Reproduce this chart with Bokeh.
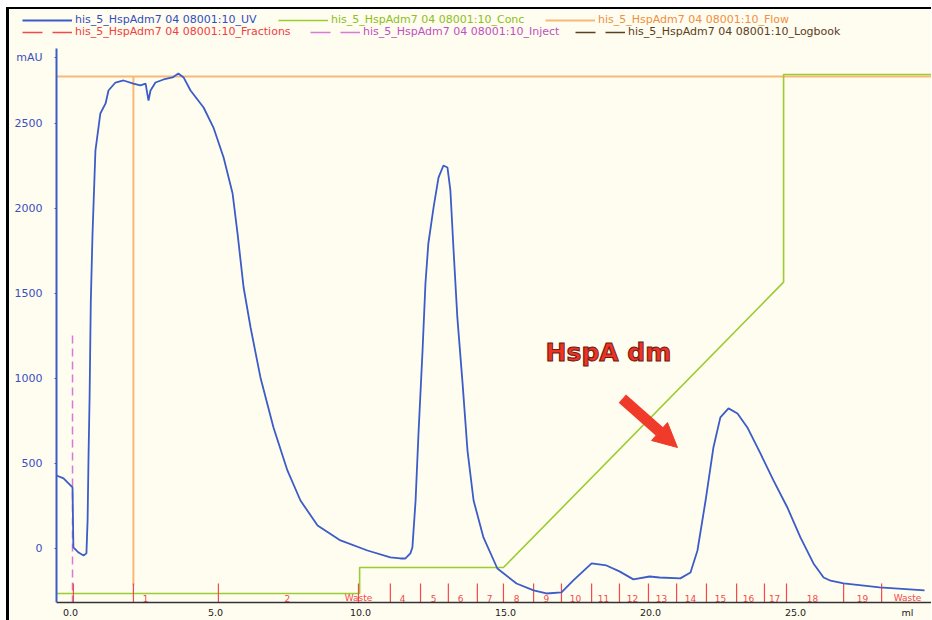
from bokeh.plotting import figure
from bokeh.models import (Range1d, FixedTicker, Legend, LegendItem, Arrow, NormalHead, Text)
from bokeh.core.properties import value
from bokeh.embed import file_html
from bokeh.resources import INLINE

# ---------------- data ----------------
uv_ml = [-0.48, -0.24, 0.07, 0.10, 0.28, 0.45, 0.55, 0.59, 0.62, 0.66, 0.70, 0.76, 0.86,
         1.03, 1.21, 1.31, 1.55, 1.83, 2.17, 2.41, 2.59, 2.69, 2.76, 2.93, 3.21, 3.52,
         3.72, 3.90, 4.14, 4.59, 4.93, 5.28, 5.59, 5.76, 5.97, 6.21, 6.55, 7.00, 7.48,
         7.93, 8.52, 9.31, 10.24, 11.03, 11.38, 11.55, 11.72, 11.79, 11.90, 12.00, 12.14,
         12.24, 12.34, 12.52, 12.69, 12.86, 13.00, 13.10, 13.21, 13.34, 13.52, 13.69,
         13.90, 14.24, 14.72, 15.38, 15.97, 16.41, 16.93, 17.34, 17.97, 18.48, 18.93,
         19.41, 19.97, 20.31, 21.03, 21.38, 21.62, 21.90, 22.17, 22.41, 22.69, 23.00,
         23.34, 23.79, 24.24, 24.72, 25.17, 25.62, 25.97, 26.21, 26.66, 27.90, 29.45]
uv_mau = [429, 412, 359, 6, -24, -41, -29, 165, 518, 900, 1450, 1853, 2341,
          2559, 2618, 2694, 2741, 2753, 2735, 2724, 2735, 2635, 2694, 2741, 2759, 2771,
          2794, 2771, 2694, 2594, 2476, 2300, 2088, 1853, 1535, 1300, 1006, 712, 459,
          282, 135, 47, -12, -53, -59, -59, -29, 6, 282, 676, 1165,
          1559, 1794, 2006, 2182, 2253, 2241, 2106, 1753, 1359, 971, 576,
          282, 65, -118, -206, -247, -265, -259, -188, -88, -100, -135,
          -182, -165, -171, -176, -141, -12, 282, 594, 771, 824, 794,
          712, 559, 400, 241, 65, -88, -171, -190, -206, -229, -247]

conc_ml = [-0.48, 9.97, 9.97, 14.93, 24.59, 24.59, 29.69]
conc_pct = [0, 0, 5, 5, 60, 100, 100]

flow_ml = [-0.48, 2.17, 2.17, 2.17, 29.69]
flow_val = [1.0, 1.0, 0.0, 1.0, 1.0]

inject_ml = [0.07]
inject_top = [1253]

frac_ticks = [0.10, 2.17, 5.10, 9.93, 11.03, 12.07, 13.03, 14.03, 14.93, 15.97, 16.93,
              17.97, 18.93, 19.93, 20.90, 21.93, 22.97, 23.93, 24.69, 26.66, 27.97]
frac_labels = ["1", "2", "Waste", "4", "5", "6", "7", "8", "9", "10", "11", "12", "13",
               "14", "15", "16", "17", "18", "19", "Waste"]
frac_label_ml = [2.59, 7.48, 9.93, 11.45, 12.52, 13.45, 14.45, 15.38, 16.41, 17.41,
                 18.38, 19.38, 20.38, 21.38, 22.41, 23.38, 24.28, 25.59, 27.31, 28.86]

x_ticks = [0, 5, 10, 15, 20, 25]
x_tick_labels = ["0.0", "5.0", "10.0", "15.0", "20.0", "25.0"]
x_unit_pos, x_unit = 28.86, "ml"
y_ticks = [0, 500, 1000, 1500, 2000, 2500]
y_tick_labels = ["0", "500", "1000", "1500", "2000", "2500"]
y_unit_pos, y_unit = 2888, "mAU"
x_start, x_end = -0.483, 29.69   # extent of the ml axis
y_axis_top = 2941

run = "his_5_HspAdm7 04 08001:10"
legend_names = [run + "_UV", run + "_Conc", run + "_Flow",
                run + "_Fractions", run + "_Inject", run + "_Logbook"]

note_text = "HspA dm"
note_pos = (18.55, 1153)
arrow_start = (19.03, 882)
arrow_end = (20.93, 594)

# ---------------- style ----------------
BG = "#fffcf0"
BLUE = "#3c5cc8"
GREEN = "#9acd32"
ORANGE = "#f8b878"
RED = "#f24a4a"
PINK = "#d67ad6"
BROWN = "#5a4020"

Y0, Y1 = -318, 3153
X0 = -2.103  # frame reaches past the y axis so the legend samples are not clipped
p = figure(frame_width=922, frame_height=590, output_backend="svg", toolbar_location=None,
           x_range=Range1d(X0, x_end), y_range=Range1d(Y0, Y1),
           min_border_left=0, min_border_right=0, min_border_top=3, min_border_bottom=0)
p.margin = (7, 0, 0, 6)
p.styles = {"border-top": "2px solid black", "border-left": "3px solid black"}
p.background_fill_color = BG
p.border_fill_color = BG
p.outline_line_color = None
p.grid.visible = False

# secondary scales: conc 0% sits at -265 mAU-equivalent, 100% at 2788
p.extra_y_ranges = {"conc": Range1d((Y0 + 265) / 30.53, (Y1 + 265) / 30.53),
                    "flow": Range1d((Y0 + 218) / 2994.0, (Y1 + 218) / 2994.0)}

# axes
xa = p.xaxis[0]
xa.ticker = FixedTicker(ticks=x_ticks + [x_unit_pos])
xa.major_label_overrides = {**{t: l for t, l in zip(x_ticks, x_tick_labels)}, x_unit_pos: x_unit}
xa.bounds = (x_start, x_end)
xa.axis_line_color = "#333333"
xa.axis_line_width = 1.5
xa.major_tick_line_color = None
xa.major_tick_out = 0
xa.major_tick_in = 0
xa.minor_tick_line_color = None
xa.major_label_standoff = 4
xa.major_label_text_font = "DejaVu Sans"
xa.major_label_text_font_size = "9.5px"
xa.major_label_text_color = "#222222"

ya = p.yaxis[0]
ya.fixed_location = x_start
ya.ticker = FixedTicker(ticks=y_ticks + [y_unit_pos])
ya.major_label_overrides = {**{t: l for t, l in zip(y_ticks, y_tick_labels)}, y_unit_pos: y_unit}
ya.bounds = (Y0, y_axis_top)
ya.axis_line_color = BLUE
ya.axis_line_width = 2
ya.major_tick_line_color = BLUE
ya.major_tick_out = 2
ya.major_tick_in = 0
ya.minor_tick_line_color = None
ya.major_label_standoff = 12
ya.major_label_text_font = "DejaVu Sans"
ya.major_label_text_font_size = "11px"
ya.major_label_text_color = "#3a4fc0"

# flow
r_flow = p.line(flow_ml, flow_val, y_range_name="flow", color=ORANGE, line_width=2)
# conc
r_conc = p.line(conc_ml, conc_pct, y_range_name="conc", color=GREEN, line_width=1.6)
# inject
p.segment(x0=inject_ml, y0=inject_top, x1=inject_ml, y1=[Y0] * len(inject_ml),
          color=PINK, line_width=1.5, line_dash="8 5")
# fractions
p.segment(x0=frac_ticks, y0=[-206] * len(frac_ticks), x1=frac_ticks, y1=[Y0] * len(frac_ticks),
          color=RED, line_width=1.2)
p.text(x=frac_label_ml, y=[-294] * len(frac_labels), text=frac_labels,
       text_font=value("DejaVu Sans"), text_font_size="9px", text_color=RED,
       text_align="center", text_baseline="middle")
# UV
r_uv = p.line(uv_ml, uv_mau, color=BLUE, line_width=1.8)

# legend-only renderers (no visible data)
nan2 = [float("nan")] * 2
r_frac = p.line(nan2, nan2, color=RED, line_width=1.5, line_dash="20 10")
r_inj = p.line(nan2, nan2, color=PINK, line_width=1.5, line_dash="20 10")
r_log = p.line(nan2, nan2, color=BROWN, line_width=1.5, line_dash="20 10")

legend_specs = [
    (r_uv, legend_names[0], "#2f4fc0", (13, 576)),
    (r_conc, legend_names[1], "#8cc020", (269, 576)),
    (r_flow, legend_names[2], "#f09040", (536, 576)),
    (r_frac, legend_names[3], "#f04040", (13, 564)),
    (r_inj, legend_names[4], "#c050c0", (301, 564)),
    (r_log, legend_names[5], BROWN, (566, 564)),
]
for rend, name, col, loc in legend_specs:
    lg = Legend(items=[LegendItem(label=name, renderers=[rend])], location=loc,
                glyph_width=50, glyph_height=10, label_standoff=3, padding=0, margin=0,
                label_height=10, border_line_color=None, background_fill_alpha=0,
                label_text_font="DejaVu Sans", label_text_font_size="11px",
                label_text_color=col)
    p.add_layout(lg)

# annotation
extra = {}
if "text_outline_color" in Text.properties():
    extra["text_outline_color"] = "#6a1a10"
p.text(x=[note_pos[0]], y=[note_pos[1]], text=[note_text], text_font=value("DejaVu Sans"),
       text_font_size="25px", text_font_style="bold", text_color="#ee3322",
       text_align="center", text_baseline="middle", **extra)
p.add_layout(Arrow(end=NormalHead(size=24, fill_color="#f03a2a", line_color="#f03a2a"),
                   x_start=arrow_start[0], y_start=arrow_start[1],
                   x_end=arrow_end[0], y_end=arrow_end[1],
                   line_color="#f03a2a", line_width=11))

open("out.html", "w").write(file_html(p, INLINE))
